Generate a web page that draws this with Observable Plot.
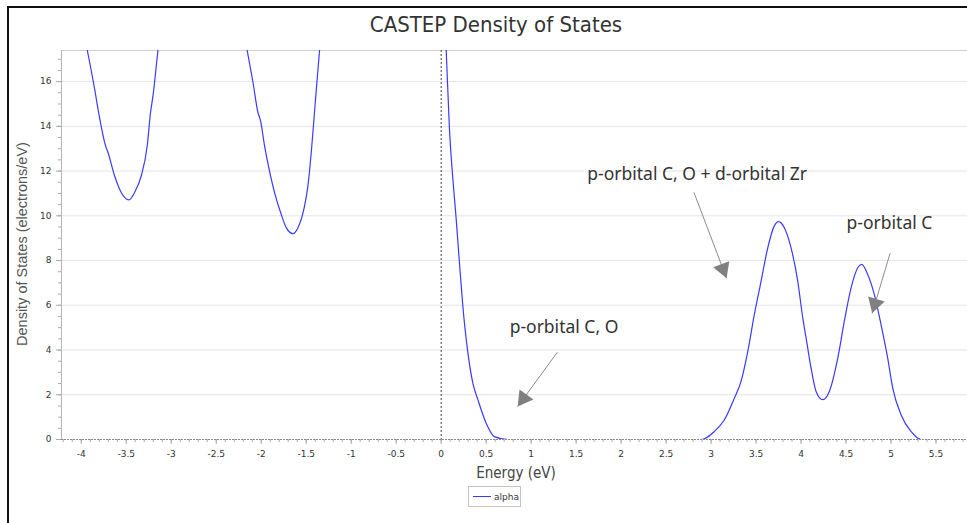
<!DOCTYPE html>
<html><head><meta charset="utf-8">
<script src="https://cdn.jsdelivr.net/npm/d3@7"></script>
<script src="https://cdn.jsdelivr.net/npm/@observablehq/plot@0.6"></script>
<style>
body{margin:0;background:#fff;width:967px;height:523px;overflow:hidden;position:relative;font-family:"DejaVu Sans",sans-serif}
#frame{position:absolute;left:7px;top:6px;width:980px;height:540px;border-left:2px solid #111;border-top:2px solid #111;pointer-events:none}
#title{position:absolute;top:12px;left:496px;transform:translateX(-50%);font:22px "DejaVu Sans Condensed","DejaVu Sans",sans-serif;color:#333;white-space:nowrap;line-height:26px}
#chart{position:absolute;left:0;top:0}
#xlabel{position:absolute;top:464px;left:516px;transform:translateX(-50%);font:15px "DejaVu Sans Condensed","DejaVu Sans",sans-serif;color:#444;white-space:nowrap;line-height:18px}
#ylabel{position:absolute;left:22px;top:244px;transform:translate(-50%,-50%) rotate(-90deg);font:14.5px "Liberation Sans",sans-serif;color:#555;white-space:nowrap;line-height:16px}
#legend{position:absolute;left:468px;top:486px;width:53px;height:21px;border:1px solid #c4c4c4;box-sizing:border-box;background:#fff;font:9px "DejaVu Sans",sans-serif;color:#333;display:flex;align-items:center}
#legend .sw{display:inline-block;width:18px;height:0;border-top:1px solid #3a3aff;margin:0 3px 0 4px}
</style>
</head><body>
<div id="chart"></div>
<div id="frame"></div>
<div id="title">CASTEP Density of States</div>
<div id="xlabel">Energy (eV)</div>
<div id="ylabel">Density of States (electrons/eV)</div>
<div id="legend"><span class="sw"></span><span class="lt">alpha</span></div>
<script>
// ---- data ----
const energy = [-4.22,-3.933,-3.852,-3.808,-3.730,-3.703,-3.630,-3.556,-3.470,-3.408,-3.333,-3.267,-3.230,-3.203,-3.148,-3.0,-2.6,-2.3,
  -2.156,-2.092,-2.037,-2.008,-1.963,-1.908,-1.852,-1.778,-1.722,-1.648,-1.592,-1.526,-1.481,-1.444,-1.408,-1.378,-1.352,-1.2,-0.8,-0.4,0.0,
  0.056,0.092,0.130,0.167,0.203,0.241,0.297,0.352,0.408,0.5,0.592,0.741,1.5,2.2,2.889,
  3.037,3.148,3.259,3.333,3.408,3.481,3.556,3.630,3.703,3.748,3.814,3.889,3.963,4.019,4.056,4.111,4.167,4.241,4.314,4.408,4.481,4.556,4.630,4.674,4.741,4.814,4.889,4.963,5.019,5.111,5.222,5.333,5.86];
const dos = [23,17.4,15.67,14.63,13.13,12.83,11.79,11.04,10.71,11.04,11.79,13.13,14.63,15.37,17.39,22,26,21,
  17.39,15.97,14.63,14.25,13.13,12.0,11.04,10.07,9.47,9.20,9.47,10.30,11.34,12.83,14.63,16.12,17.39,23,28,27,22,
  17.39,13.88,11.64,9.85,7.90,5.96,3.87,2.52,1.78,0.73,0.13,0,0,0,0,
  0.36,0.88,1.85,2.60,3.94,5.59,7.08,8.57,9.55,9.74,9.47,8.57,7.08,5.44,4.54,3.20,2.15,1.78,2.15,3.64,5.29,6.78,7.68,7.83,7.38,6.49,5.14,3.64,2.30,1.11,0.36,0,0];
const yTicks = [0,2,4,6,8,10,12,14,16];
const xTicks = [-4,-3.5,-3,-2.5,-2,-1.5,-1,-0.5,0,0.5,1,1.5,2,2.5,3,3.5,4,4.5,5,5.5];
const xDomain = [-4.22, 5.85];
const yDomain = [0, 17.39];
const noteText = ["p-orbital C, O", "p-orbital C, O + d-orbital Zr", "p-orbital C"];
const noteE = [0.761, 1.624, 4.506];
const noteD = [5.03, 11.84, 9.64];
const arrowFromE = [1.291, 2.809, 4.99];
const arrowFromD = [3.90, 11.05, 8.33];
const arrowToE = [0.85, 3.172, 4.79];
const arrowToD = [1.47, 7.21, 5.64];

// ---- build ----
const W = 967, H = 523, mL = 61, mR = 0, mT = 50, mB = 84;
const curve = energy.map((e, i) => ({e, d: dos[i]}));
const yMinor = d3.range(0, 17.4, 0.5);
const xMinor = d3.range(-42, 59).map(i => i / 10);
const notes = noteText.map((t, i) => ({t, e: noteE[i], d: noteD[i]}));
const arrows = arrowFromE.map((e, i) => ({x1: e, y1: arrowFromD[i], x2: arrowToE[i], y2: arrowToD[i]}));
const sx = d3.scaleLinear(xDomain, [mL, W - mR]);
const sy = d3.scaleLinear(yDomain, [H - mB, mT]);
const heads = arrows.map(a => {
  const x1 = sx(a.x1), y1 = sy(a.y1), x2 = sx(a.x2), y2 = sy(a.y2);
  const dx = x2 - x1, dy = y2 - y1, L = Math.hypot(dx, dy);
  return {x: sx.invert(x2 - dx / L * 10), y: sy.invert(y2 - dy / L * 10), angle: Math.atan2(dx, -dy) * 180 / Math.PI};
});

const chart = Plot.plot({
  width: W, height: H,
  marginLeft: mL, marginRight: mR, marginTop: mT, marginBottom: mB,
  style: {background: "transparent", fontFamily: "DejaVu Sans", color: "#333", overflow: "visible"},
  x: {domain: xDomain, axis: null},
  y: {domain: yDomain, axis: null},
  marks: [
    Plot.gridY(yTicks.filter(d => d > 0), {stroke: "#e4e4e4", strokeOpacity: 1}),
    Plot.ruleY([yDomain[1]], {stroke: "#cfcfcf"}),
    Plot.ruleX([xDomain[0]], {stroke: "#b5b5b5"}),
    Plot.axisY({ticks: yMinor, tickSize: 3, tickFormat: () => "", stroke: "#aaa", label: null}),
    Plot.axisY({ticks: yTicks, tickSize: 5, tickPadding: 5, tickFormat: d => String(d), fontSize: 9, stroke: "#aaa", fill: "#333", label: null}),
    Plot.axisX({ticks: xMinor, tickSize: 3, tickFormat: () => "", stroke: "#aaa", label: null}),
    Plot.axisX({ticks: xTicks, tickSize: 5, tickPadding: 6, tickFormat: d => String(d), fontSize: 9, stroke: "#aaa", fill: "#333", label: null}),
    Plot.ruleY([0], {stroke: "#888", strokeDasharray: "2,1"}),
    Plot.ruleX([0], {stroke: "#444", strokeDasharray: "2,2"}),
    Plot.line(curve, {x: "e", y: "d", stroke: "#3a3aff", strokeWidth: 1.2, curve: "monotone-x", clip: true}),
    Plot.link(arrows, {x1: "x1", y1: "y1", x2: "x2", y2: "y2", stroke: "#8c8c8c", strokeWidth: 1}),
    Plot.dot(heads, {x: "x", y: "y", symbol: "triangle", r: 6.4, fill: "#808080", stroke: "none", rotate: "angle"}),
    Plot.text(notes, {x: "e", y: "d", text: "t", textAnchor: "start", lineAnchor: "middle", fontSize: 17.5, fontFamily: "Noto Sans", fill: "#333"})
  ]
});
document.getElementById("chart").append(chart);
</script>
</body></html>
